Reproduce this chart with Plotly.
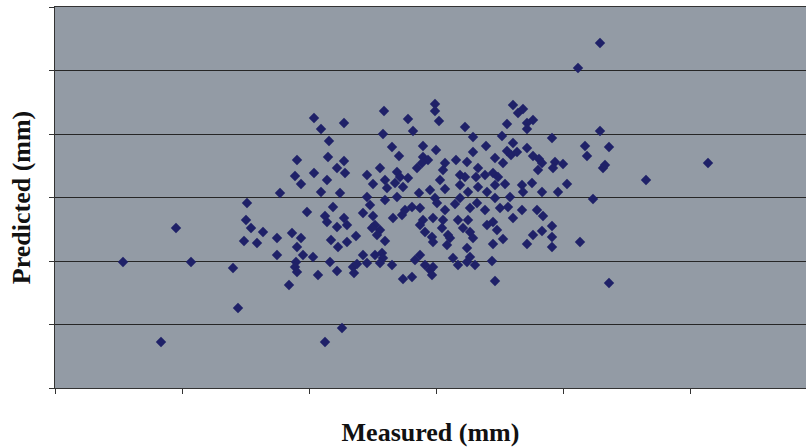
import plotly.graph_objects as go

# Measured vs predicted values (plot units; one grid step = 127 on x, 63.5 on y)
measured = [
    68, 106, 121, 136, 178, 183, 270, 287, 545, 523, 653, 591, 554, 525, 440, 348, 357, 234,
    259, 289, 266, 274, 242, 273, 289, 282, 290, 259, 240, 246, 272, 225, 266, 285,
    192, 252, 278, 270, 272, 289, 191, 196, 208, 189, 202, 222, 237, 246, 282, 292, 276, 292,
    301, 283, 242, 222, 248, 241, 258, 275, 240, 242, 263, 282, 298, 302, 299,
    329, 380, 380, 353, 384, 358, 328, 410, 418, 431, 337, 368, 381, 344, 418, 401, 412, 368,
    373, 367, 390, 362, 388, 325, 423, 405, 410, 421, 430, 312, 342, 345, 330, 340, 353, 385,
    318, 332, 348, 364, 375, 390, 405, 413, 423, 432,
    458, 463, 468, 478, 472, 452, 472, 447, 497, 545, 530, 554, 532, 458, 472, 452, 456, 462,
    440, 448, 478, 484, 487, 483, 500, 508, 498, 548, 550, 438, 443, 450, 440, 467, 477, 468,
    487, 503, 512,
    440, 455, 538, 445, 453, 467, 482, 488, 458, 438, 442, 497, 487, 478, 497, 448, 472, 497,
    438, 437,
    312, 330, 342, 380, 405, 315, 308, 318, 338, 347, 350, 357, 365, 382, 390, 400, 415, 422,
    430, 368, 378, 388, 403, 413, 432, 320, 325, 317, 322, 365, 370, 377, 378, 387, 393, 395,
    408, 415, 418, 392, 330, 412, 308, 312, 320, 327, 328, 325, 337, 365, 360, 370, 375, 378,
    377, 398, 403, 415, 412, 420,
]
predicted = [
    126, 46, 160, 126, 120, 80, 46, 60, 345, 320, 225, 208, 105, 146, 107, 109, 111, 103,
    270, 265, 259, 247, 228, 231, 227, 220, 215, 215, 212, 204, 208, 195, 196, 195,
    185, 176, 181, 172, 166, 170, 168, 160, 156, 147, 145, 150, 155, 150, 161, 163, 148, 146,
    152, 141, 141, 133, 133, 126, 131, 126, 121, 116, 113, 117, 121, 124, 115,
    277, 284, 277, 269, 267, 257, 254, 261, 251, 242, 241, 242, 238, 232, 236, 228, 226, 231,
    228, 225, 225, 220, 218, 220, 220, 213, 211, 211, 213, 213, 216, 211, 208, 205, 210, 208,
    204, 200, 201, 195, 198, 199, 203, 196, 201, 196,
    283, 275, 279, 268, 265, 264, 259, 252, 250, 257, 242, 241, 232, 245, 240, 237, 233, 236,
    230, 225, 232, 229, 225, 218, 226, 224, 220, 220, 223, 215, 211, 204, 203, 203, 205, 196,
    196, 196, 204,
    190, 191, 189, 180, 181, 178, 178, 172, 170, 166, 158, 162, 157, 153, 151, 149, 144, 141,
    144, 127,
    191, 188, 191, 190, 190, 183, 175, 172, 170, 173, 178, 181, 180, 185, 178, 184, 180, 185,
    178, 168, 170, 168, 168, 168, 163, 163, 158, 160, 153, 163, 156, 151, 146, 160, 153, 150,
    160, 156, 150, 143, 147, 140, 133, 125, 133, 135, 130, 125, 123, 133, 128, 123, 118, 121,
    113, 130, 123, 131, 126, 123,
]

x_ticks = [0, 127, 254, 381, 508, 635]
y_ticks = [0, 63.5, 127, 190.5, 254, 317.5, 381]

fig = go.Figure(
    go.Scatter(
        x=measured,
        y=predicted,
        mode="markers",
        marker=dict(symbol="diamond", size=8, color="#1f2168", line=dict(width=0)),
        showlegend=False,
    )
)

axis_font = dict(family="Liberation Serif, Times New Roman, serif", size=26, color="#111111")

fig.update_xaxes(
    range=[0, 751],
    tickvals=x_ticks,
    showticklabels=False,
    ticks="outside",
    ticklen=5,
    tickcolor="#333333",
    showgrid=False,
    zeroline=False,
    showline=True,
    linecolor="#333333",
    linewidth=1,
    mirror=True,
    title=dict(text="<b>Measured (mm)</b>", font=axis_font, standoff=29),
)
fig.update_yaxes(
    range=[0, 381],
    tickvals=y_ticks,
    showticklabels=False,
    ticks="outside",
    ticklen=5,
    tickcolor="#333333",
    showgrid=True,
    gridcolor="#262626",
    gridwidth=1.4,
    zeroline=False,
    showline=True,
    linecolor="#333333",
    linewidth=1,
    title=dict(text="<b>Predicted (mm)</b>", font=axis_font, standoff=10),
)

fig.update_layout(
    width=806,
    height=447,
    margin=dict(l=55, r=0, t=7, b=59, autoexpand=False),
    plot_bgcolor="#939ba5",
    paper_bgcolor="white",
)

fig.write_html("out.html")
